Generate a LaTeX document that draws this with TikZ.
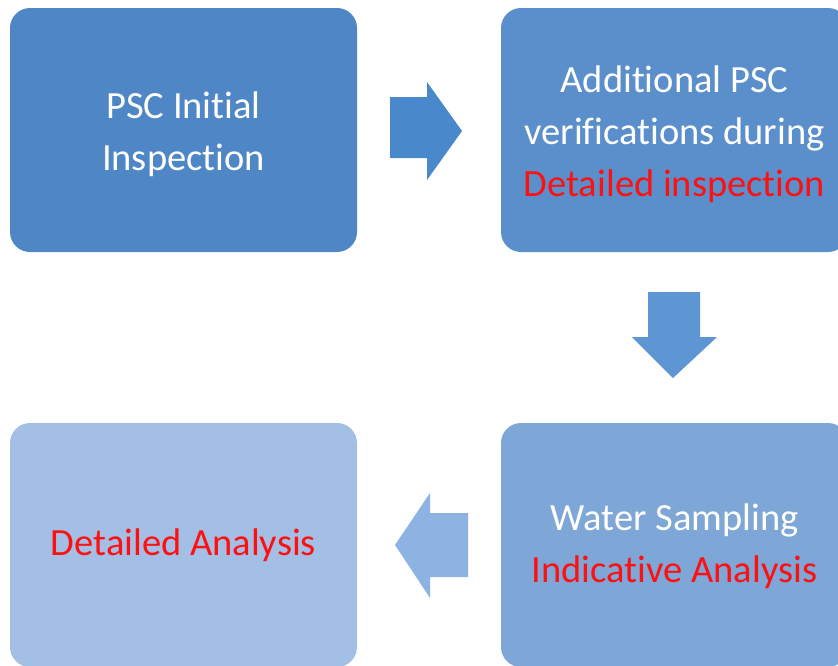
\documentclass[tikz,border=0pt]{standalone}
\usepackage{fontspec}
\setmainfont[Ligatures={NoCommon}]{Carlito}
\definecolor{boxA}{HTML}{4F86C6}
\definecolor{boxB}{HTML}{5B8FCB}
\definecolor{boxC}{HTML}{7EA6D7}
\definecolor{boxD}{HTML}{A3BFE6}
\definecolor{arrA}{HTML}{4A88CC}
\definecolor{arrB}{HTML}{5E95D3}
\definecolor{arrC}{HTML}{8DB3E3}
\definecolor{hot}{HTML}{FF1010}
\begin{document}
\begin{tikzpicture}[x=1pt,y=-1pt,
  stage/.style={rectangle, rounded corners=20pt, minimum width=347pt,
    minimum height=244pt, inner sep=0pt},
  caption/.style={align=center, text=white, inner sep=0pt,
    font=\fontsize{38.5}{52}\selectfont}]
  \useasboundingbox (0,0) rectangle (838,665);
  \clip (0,0) rectangle (838,665);

  % the four stages
  \node[stage, fill=boxA] (s1) at (183.5,130) {};
  \node[stage, fill=boxB] (s2) at (674.5,130) {};
  \node[stage, fill=boxC] (s3) at (674.5,545) {};
  \node[stage, fill=boxD] (s4) at (183.5,545) {};

  % their captions
  \node[caption] (c1) at ([yshift=-4pt]s1.center) {PSC Initial\\Inspection};
  \node[caption] (c2) at ([yshift=-4pt]s2.center)
    {Additional PSC\\verifications during\\\textcolor{hot}{Detailed inspection}};
  \node[caption] (c3) at ([yshift=-1pt]s3.center)
    {Water Sampling\\\textcolor{hot}{Indicative Analysis}};
  \node[caption] (c4) at (s4.center) {\textcolor{hot}{Detailed Analysis}};

  % block arrows between the stages
  \fill[arrA] (390,97) -- (427,97) -- (427,82) -- (462,131) -- (427,180)
    -- (427,158) -- (390,158) -- cycle;
  \fill[arrB] (648,292) -- (700,292) -- (700,337) -- (717,337) -- (673,378)
    -- (632,337) -- (648,337) -- cycle;
  \fill[arrC] (468,513) -- (430,513) -- (430,493) -- (395,545) -- (430,598)
    -- (430,577) -- (468,577) -- cycle;
\end{tikzpicture}
\end{document}
